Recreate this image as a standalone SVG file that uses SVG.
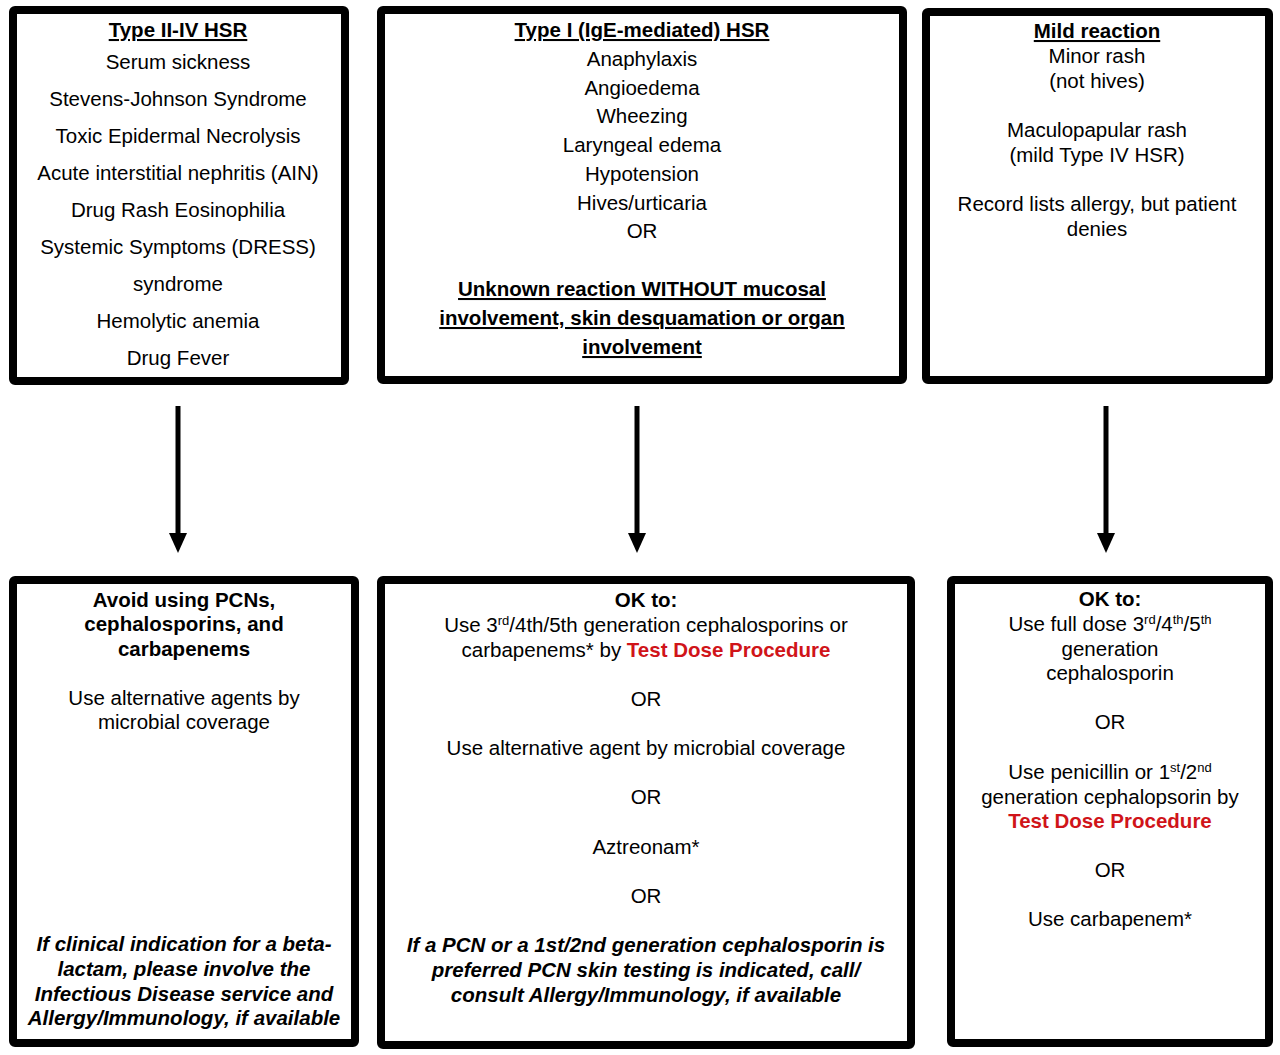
<svg xmlns="http://www.w3.org/2000/svg" width="1280" height="1055" viewBox="0 0 1280 1055">
<defs>
<style>
.box{fill:#fff;stroke:#000;stroke-width:8}
text{font-family:"Liberation Sans",Arial,sans-serif;font-size:20.5px;fill:#000;text-anchor:middle}
.b{font-weight:bold}
.u{text-decoration:underline}
.bi{font-weight:bold;font-style:italic}
.red{fill:#d01419;font-weight:bold}
.conn{stroke:#000;stroke-width:5;fill:none}
</style>
</defs>
<rect width="1280" height="1055" fill="#fff"/>

<g id="type2-4">
<rect class="box" x="13" y="10" width="332" height="371" rx="2"/>
<text x="178" y="37" class="b u">Type II-IV HSR</text>
<text x="178" y="69">Serum sickness</text>
<text x="178" y="106">Stevens-Johnson Syndrome</text>
<text x="178" y="143">Toxic Epidermal Necrolysis</text>
<text x="178" y="180">Acute interstitial nephritis (AIN)</text>
<text x="178" y="217">Drug Rash Eosinophilia</text>
<text x="178" y="254">Systemic Symptoms (DRESS)</text>
<text x="178" y="291">syndrome</text>
<text x="178" y="328">Hemolytic anemia</text>
<text x="178" y="365">Drug Fever</text>
</g>

<g id="type1">
<rect class="box" x="381" y="10" width="522" height="370" rx="2"/>
<text x="642" y="37" class="b u">Type I (IgE-mediated) HSR</text>
<text x="642" y="66">Anaphylaxis</text>
<text x="642" y="95">Angioedema</text>
<text x="642" y="123">Wheezing</text>
<text x="642" y="152">Laryngeal edema</text>
<text x="642" y="181">Hypotension</text>
<text x="642" y="210">Hives/urticaria</text>
<text x="642" y="238">OR</text>
<text x="642" y="296" class="b u">Unknown reaction WITHOUT mucosal</text>
<text x="642" y="325" class="b u">involvement, skin desquamation or organ</text>
<text x="642" y="354" class="b u">involvement</text>
</g>

<g id="mild">
<rect class="box" x="926" y="12" width="343" height="368" rx="2"/>
<text x="1097" y="38" class="b u">Mild reaction</text>
<text x="1097" y="63">Minor rash</text>
<text x="1097" y="88">(not hives)</text>
<text x="1097" y="137">Maculopapular rash</text>
<text x="1097" y="162">(mild Type IV HSR)</text>
<text x="1097" y="211">Record lists allergy, but patient</text>
<text x="1097" y="236">denies</text>
</g>

<g id="avoid">
<rect class="box" x="13" y="580" width="342" height="463" rx="2"/>
<text x="184" y="607" class="b">Avoid using PCNs,</text>
<text x="184" y="631" class="b">cephalosporins, and</text>
<text x="184" y="656" class="b">carbapenems</text>
<text x="184" y="705">Use alternative agents by</text>
<text x="184" y="729">microbial coverage</text>
<text x="184" y="951" class="bi">If clinical indication for a beta-</text>
<text x="184" y="976" class="bi">lactam, please involve the</text>
<text x="184" y="1001" class="bi">Infectious Disease service and</text>
<text x="184" y="1025" class="bi">Allergy/Immunology, if available</text>
</g>

<g id="ok-type1">
<rect class="box" x="381" y="580" width="530" height="465" rx="2"/>
<text x="646" y="607" class="b">OK to:</text>
<text x="646" y="632">Use 3<tspan dy="-7" font-size="13">rd</tspan><tspan dy="7">/4th/5th generation cephalosporins or</tspan></text>
<text x="646" y="657">carbapenems* by <tspan class="red">Test Dose Procedure</tspan></text>
<text x="646" y="706">OR</text>
<text x="646" y="755">Use alternative agent by microbial coverage</text>
<text x="646" y="804">OR</text>
<text x="646" y="854">Aztreonam*</text>
<text x="646" y="903">OR</text>
<text x="646" y="952" class="bi">If a PCN or a 1st/2nd generation cephalosporin is</text>
<text x="646" y="977" class="bi">preferred PCN skin testing is indicated, call/</text>
<text x="646" y="1002" class="bi">consult Allergy/Immunology, if available</text>
</g>

<g id="ok-mild">
<rect class="box" x="951" y="580" width="318" height="463" rx="2"/>
<text x="1110" y="606" class="b">OK to:</text>
<text x="1110" y="631">Use full dose 3<tspan dy="-7" font-size="13">rd</tspan><tspan dy="7">/4</tspan><tspan dy="-7" font-size="13">th</tspan><tspan dy="7">/5</tspan><tspan dy="-7" font-size="13">th</tspan></text>
<text x="1110" y="656">generation</text>
<text x="1110" y="680">cephalosporin</text>
<text x="1110" y="729">OR</text>
<text x="1110" y="779">Use penicillin or 1<tspan dy="-7" font-size="13">st</tspan><tspan dy="7">/2</tspan><tspan dy="-7" font-size="13">nd</tspan></text>
<text x="1110" y="804">generation cephalopsorin by</text>
<text x="1110" y="828" class="red">Test Dose Procedure</text>
<text x="1110" y="877">OR</text>
<text x="1110" y="926">Use carbapenem*</text>
</g>

<g id="connectors">
<line class="conn" x1="178" y1="406" x2="178" y2="534"/>
<path d="M169,533 L187,533 L178,553 Z" fill="#000"/>
<line class="conn" x1="637" y1="406" x2="637" y2="534"/>
<path d="M628,533 L646,533 L637,553 Z" fill="#000"/>
<line class="conn" x1="1106" y1="406" x2="1106" y2="534"/>
<path d="M1097,533 L1115,533 L1106,553 Z" fill="#000"/>
</g>
</svg>
